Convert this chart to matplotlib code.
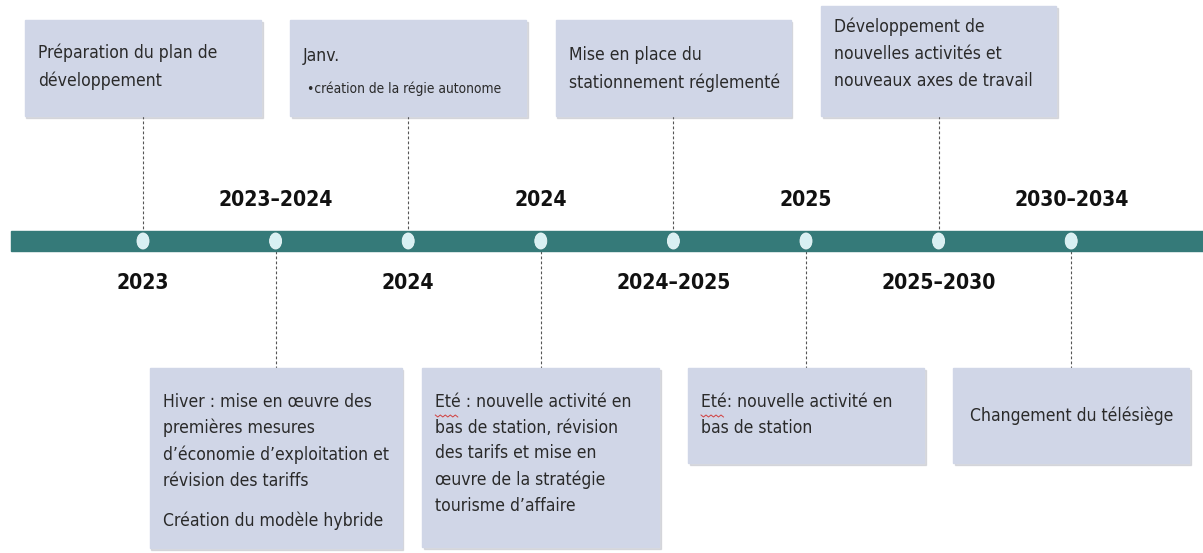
import matplotlib
matplotlib.use('Agg')
import numpy as np
import matplotlib.pyplot as plt
from matplotlib import font_manager
from matplotlib.patches import Rectangle, Ellipse

# Années de la frise (dans l'ordre, de gauche à droite)
annees = ['2023', '2023–2024', '2024', '2024', '2024–2025', '2025', '2025–2030', '2030–2034']

# Côté de la boîte de description pour chaque étape
cotes = ['haut', 'bas', 'haut', 'bas', 'haut', 'bas', 'haut', 'bas']

# Texte principal de chaque étape
textes = [
    "Préparation du plan de\ndéveloppement",
    "Hiver : mise en œuvre des\npremières mesures\nd’économie d’exploitation et\nrévision des tariffs",
    "Janv.",
    "Eté : nouvelle activité en\nbas de station, révision\ndes tarifs et mise en\nœuvre de la stratégie\ntourisme d’affaire",
    "Mise en place du\nstationnement réglementé",
    "Eté: nouvelle activité en\nbas de station",
    "Développement de\nnouvelles activités et\nnouveaux axes de travail",
    "Changement du télésiège",
]

# Texte secondaire (sous le texte principal)
sous_textes = ['', 'Création du modèle hybride', '•création de la régie autonome', '', '', '', '', '']

# --- Mise en page (en pixels) ---
largeur_fig, hauteur_fig = 1203, 553
x_premier = 143        # position du premier point
pas = 132.6            # écart entre deux points
y_barre = 241
epaisseur_barre = 20

# boîtes : (largeur, haut, bas)
boites = [
    (236, 20, 116),
    (252, 368, 548),
    (236, 20, 116),
    (237, 368, 547),
    (235, 20, 116),
    (236, 368, 463),
    (235, 6, 116),
    (236, 368, 463),
]
# position du haut du texte dans chaque boîte
y_textes = [43, 393, 47, 393, 46, 393, 17, 405]
centrer = [False, False, False, False, False, False, False, True]

couleur_barre = '#357a79'
couleur_point = '#d8f0f3'
couleur_boite = '#d0d6e7'
couleur_texte = '#2a2a2a'

# Choix d'une police étroite si disponible
noms = {f.name for f in font_manager.fontManager.ttflist}
if 'Liberation Sans Narrow' in noms:
    police, etirement, facteur = 'Liberation Sans Narrow', 'normal', 1.0
elif any(f.name == 'DejaVu Sans' and 'Condensed' in f.fname for f in font_manager.fontManager.ttflist):
    police, etirement, facteur = 'DejaVu Sans', 'condensed', 0.9
else:
    police, etirement, facteur = 'Liberation Sans', 'normal', 0.84

plt.rcParams['font.family'] = [police, 'DejaVu Sans']

taille_texte = 14 * facteur
taille_annee = 16.8 * facteur
taille_petit = 11 * facteur

fig = plt.figure(figsize=(largeur_fig / 100, hauteur_fig / 100), dpi=100)
ax = fig.add_axes([0, 0, 1, 1])
ax.set_xlim(-x_premier / pas, (largeur_fig - x_premier) / pas)
ax.set_ylim(hauteur_fig, 0)
ax.axis('off')

# Barre de la frise
ax.add_patch(Rectangle((-(x_premier - 11) / pas, y_barre - epaisseur_barre / 2),
                       (largeur_fig - 11) / pas + 1, epaisseur_barre,
                       color=couleur_barre, zorder=2))

for i, annee in enumerate(annees):
    largeur, haut, bas = boites[i]
    w = largeur / pas
    gauche = i - w / 2

    # ombre + boîte
    ax.add_patch(Rectangle((gauche + 1.5 / pas, haut + 2), w, bas - haut,
                           color='#c4c6cc', alpha=0.6, zorder=1))
    ax.add_patch(Rectangle((gauche, haut), w, bas - haut,
                           color=couleur_boite, zorder=2))

    # ligne pointillée entre la boîte et le point
    if cotes[i] == 'haut':
        ax.plot([i, i], [bas, y_barre], color='#555555', lw=0.8,
                ls=(0, (2.5, 2)), zorder=1)
        y_annee = 283
        interligne = 1.66
    else:
        ax.plot([i, i], [y_barre, haut], color='#555555', lw=0.8,
                ls=(0, (2.5, 2)), zorder=1)
        y_annee = 200
        interligne = 1.55

    # point sur la barre
    ax.add_patch(Ellipse((i, y_barre), 12 / pas, 16, facecolor=couleur_point,
                         edgecolor='#eef8fa', lw=0.6, zorder=3))

    # année
    ax.text(i, y_annee, annee, ha='center', va='center', fontsize=taille_annee,
            fontweight='bold', fontstretch=etirement, color='#111111', zorder=4)

    # texte de la boîte
    if centrer[i]:
        ax.text(i, (haut + bas) / 2, textes[i], ha='center', va='center',
                fontsize=taille_texte, fontstretch=etirement, color=couleur_texte, zorder=4)
    else:
        ax.text(gauche + 13 / pas, y_textes[i], textes[i], ha='left', va='top',
                fontsize=taille_texte, fontstretch=etirement, color=couleur_texte,
                linespacing=interligne, zorder=4)

    # petite ondulation rouge (correcteur) sous "Eté"
    if textes[i].startswith('Eté'):
        xs = gauche + (13 + np.arange(0, 25, 2.5)) / pas
        ys = 415 + np.tile([0, 2], 5)
        ax.plot(xs, ys, color='#d04040', lw=0.7, zorder=5)

    # texte secondaire
    if sous_textes[i]:
        if i == 1:
            ax.text(gauche + 13 / pas, 511, sous_textes[i], ha='left', va='top',
                    fontsize=taille_texte, fontstretch=etirement, color=couleur_texte, zorder=4)
        else:
            ax.text(gauche + 17 / pas, 82, sous_textes[i], ha='left', va='top',
                    fontsize=taille_petit, fontstretch=etirement, color=couleur_texte, zorder=4)

fig.savefig('out.png', dpi=100)
